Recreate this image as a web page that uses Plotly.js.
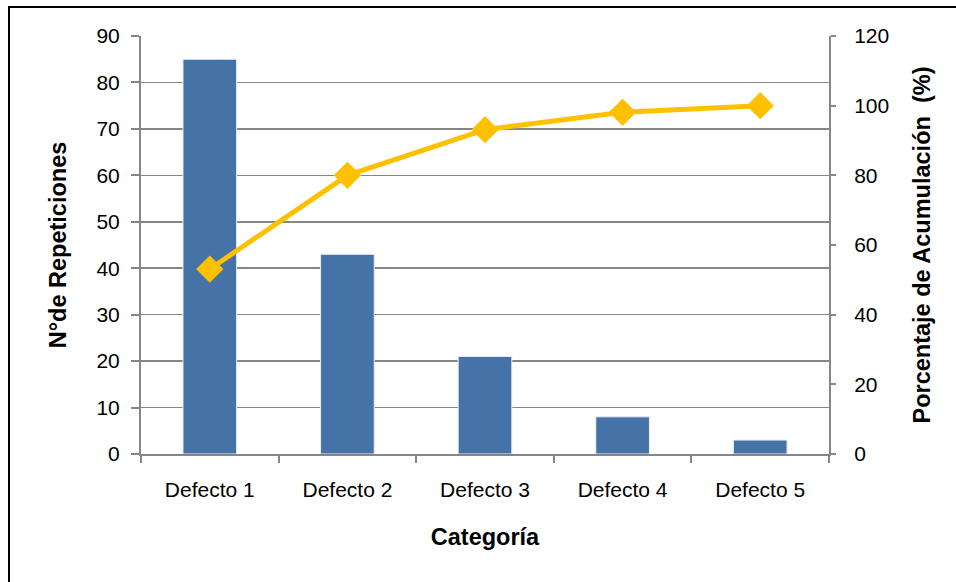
<!DOCTYPE html>
<html>
<head>
<meta charset="utf-8">
<script src="https://cdn.plot.ly/plotly-3.0.1.min.js"></script>
<style>
  html, body { margin: 0; padding: 0; background: #fff; overflow: hidden; }
  #wrap { position: relative; width: 956px; height: 582px; }
  #chart { position: absolute; left: 0; top: 0; width: 956px; height: 582px; }
  #frame {
    position: absolute; left: 8px; top: 6px; width: 1000px; height: 1000px;
    border: 2px solid #000; pointer-events: none;
  }
</style>
</head>
<body>
<div id="wrap">
  <div id="chart"></div>
  <div id="frame"></div>
</div>
<script>
// Pareto chart: defect counts (bars) and cumulative percentage (line)
const categories = ['Defecto 1', 'Defecto 2', 'Defecto 3', 'Defecto 4', 'Defecto 5'];
const repeticiones = [85, 43, 21, 8, 3];
const acumulado = [53.1, 80.0, 93.1, 98.1, 100.0];

const leftTicks = [0, 10, 20, 30, 40, 50, 60, 70, 80, 90];
const rightTicks = [0, 20, 40, 60, 80, 100, 120];

const FONT = 'Liberation Sans, Arial, sans-serif';
const AXIS_GRAY = '#868686';
const TICK_SIZE = 21;
const TITLE_SIZE = 23.5;

const bars = {
  type: 'bar',
  x: categories,
  y: repeticiones,
  marker: { color: '#4572A7', line: { color: '#E8EEF6', width: 1 } },
  hoverinfo: 'x+y',
  showlegend: false
};

const line = {
  type: 'scatter',
  mode: 'lines+markers',
  x: categories,
  y: acumulado,
  yaxis: 'y2',
  line: { color: '#FFC000', width: 5 },
  marker: { symbol: 'diamond', size: 21, color: '#FFC000' },
  hoverinfo: 'x+y',
  showlegend: false
};

const layout = {
  width: 956,
  height: 582,
  margin: { l: 141, r: 127, t: 36, b: 127.5, pad: 0 },
  paper_bgcolor: '#fff',
  plot_bgcolor: '#fff',
  bargap: 0.61,
  font: { family: FONT, size: TICK_SIZE, color: '#000' },
  xaxis: {
    type: 'category',
    tickson: 'boundaries',
    ticks: 'outside',
    ticklen: 7,
    tickwidth: 2,
    tickcolor: AXIS_GRAY,
    showline: true,
    linecolor: AXIS_GRAY,
    linewidth: 2,
    showgrid: false,
    ticklabelstandoff: 16,
    tickfont: { family: FONT, size: TICK_SIZE, color: '#000' },
    title: { text: 'Categoría', font: { family: FONT, size: TITLE_SIZE, weight: 'bold', color: '#000' }, standoff: 28 }
  },
  yaxis: {
    range: [0, 90],
    tickvals: leftTicks,
    ticks: 'outside',
    ticklen: 8,
    tickwidth: 2,
    tickcolor: AXIS_GRAY,
    showline: true,
    linecolor: AXIS_GRAY,
    linewidth: 2,
    showgrid: true,
    gridcolor: AXIS_GRAY,
    gridwidth: 1.6,
    zeroline: false,
    ticklabelstandoff: 7,
    tickfont: { family: FONT, size: TICK_SIZE, color: '#000' },
    title: { text: 'N°de Repeticiones', font: { family: FONT, size: TITLE_SIZE, weight: 'bold', color: '#000' }, standoff: 23 }
  },
  yaxis2: {
    range: [0, 120],
    tickvals: rightTicks,
    overlaying: 'y',
    side: 'right',
    ticks: 'outside',
    ticklen: 5,
    tickwidth: 2,
    tickcolor: AXIS_GRAY,
    showline: true,
    linecolor: AXIS_GRAY,
    linewidth: 2,
    showgrid: false,
    zeroline: false,
    ticklabelstandoff: 14,
    tickfont: { family: FONT, size: TICK_SIZE, color: '#000' },
    title: { text: 'Porcentaje de Acumulación  (%)', font: { family: FONT, size: TITLE_SIZE, weight: 'bold', color: '#000' }, standoff: 25 }
  }
};

Plotly.newPlot('chart', [bars, line], layout, { staticPlot: true, displayModeBar: false });
</script>
</body>
</html>
